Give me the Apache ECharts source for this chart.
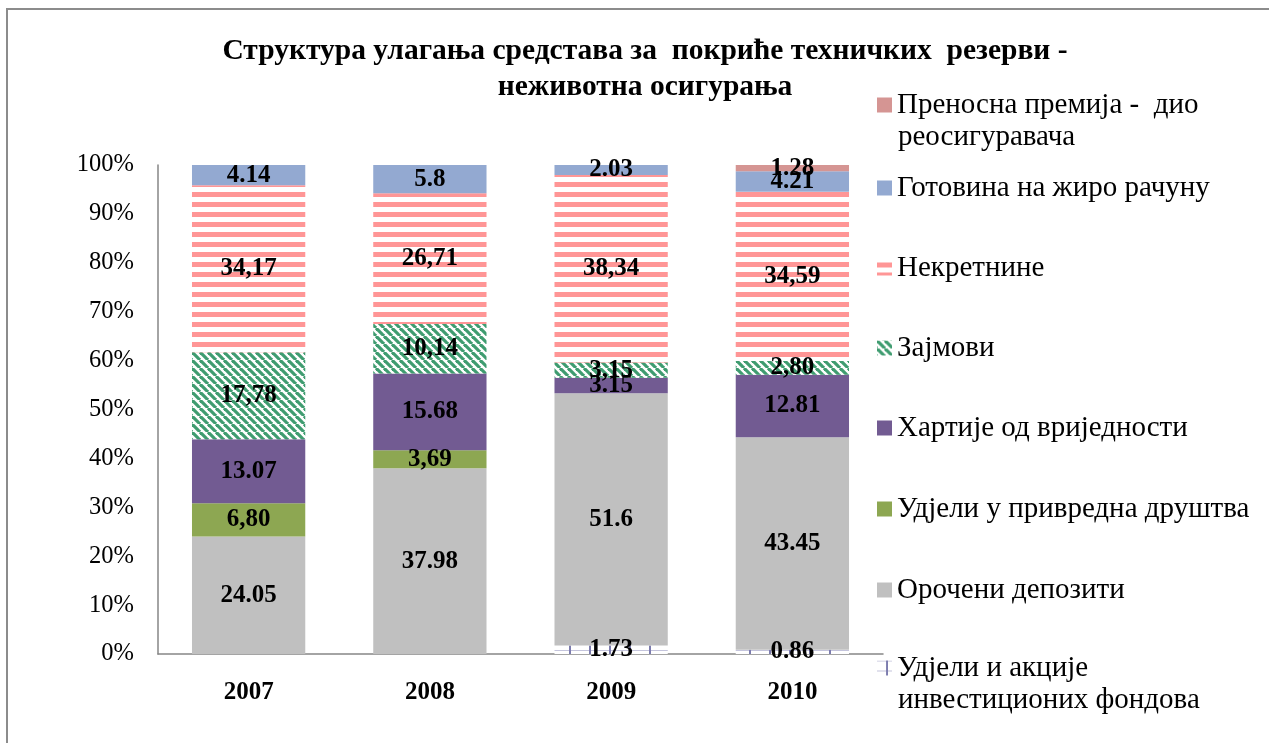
<!DOCTYPE html>
<html>
<head>
<meta charset="utf-8">
<script src="https://cdn.jsdelivr.net/npm/echarts@6/dist/echarts.min.js"></script>
<style>
  html, body { margin: 0; padding: 0; background: #fff; }
  #chart { width: 1269px; height: 743px; }
</style>
</head>
<body>
<div id="chart"></div>
<script>
// categories (years)
const years = ['2007', '2008', '2009', '2010'];

// series names, bottom of the stack first
const seriesNames = [
  'Удјели и акције инвестиционих фондова',
  'Орочени депозити',
  'Удјели у привредна друштва',
  'Хартије од вриједности',
  'Зајмови',
  'Некретнине',
  'Готовина на жиро рачуну',
  'Преносна премија - дио реосигуравача'
];

// values in %, one array per series
const fundShares   = [0, 0, 1.73, 0.86];
const deposits     = [24.05, 37.98, 51.6, 43.45];
const companyShares = [6.80, 3.69, 0, 0];
const securities   = [13.07, 15.68, 3.15, 12.81];
const loans        = [17.78, 10.14, 3.15, 2.80];
const realEstate   = [34.17, 26.71, 38.34, 34.59];
const cash         = [4.14, 5.8, 2.03, 4.21];
const premium      = [0, 0, 0, 1.28];

const yTicks = [0, 10, 20, 30, 40, 50, 60, 70, 80, 90, 100];

// little canvas tiles for the hatched fills
function tile(w, h, draw) {
  const c = document.createElement('canvas');
  c.width = w; c.height = h;
  const ctx = c.getContext('2d');
  ctx.fillStyle = '#ffffff';
  ctx.fillRect(0, 0, w, h);
  draw(ctx);
  return { image: c, repeat: 'repeat' };
}

const stripesPink = tile(10, 10, ctx => {
  ctx.fillStyle = '#ff9696';
  ctx.fillRect(0, 2, 10, 5);
});

const stripesGreen = tile(8, 8, ctx => {
  ctx.strokeStyle = '#3f9c70';
  ctx.lineWidth = 3.2;
  [-8, 0, 8].forEach(k => {
    ctx.beginPath();
    ctx.moveTo(k, 0);
    ctx.lineTo(k + 8, 8);
    ctx.stroke();
  });
});

const ticksBlue = tile(20, 10, ctx => {
  ctx.fillStyle = '#c4c4dc';
  ctx.fillRect(0, 0, 20, 1);
  ctx.fillStyle = '#7c7cae';
  ctx.fillRect(9, 0, 2, 10);
});

const fills = [ticksBlue, '#c0c0c0', '#8da752', '#725b92', stripesGreen, stripesPink, '#93a9d1', '#d59593'];
const commaSeries = [false, false, true, false, true, true, false, false];
const allValues = [fundShares, deposits, companyShares, securities, loans, realEstate, cash, premium];

const serif = '"Liberation Serif", "Times New Roman", serif';

const series = seriesNames.map((name, i) => ({
  name: name,
  type: 'bar',
  stack: 'total',
  barWidth: '62.5%',
  data: allValues[i],
  itemStyle: { color: fills[i] },
  label: {
    show: true,
    position: 'inside',
    fontFamily: serif,
    fontWeight: 'bold',
    fontSize: 25,
    color: '#000',
    formatter: p => {
      if (!p.value) return '';
      return commaSeries[i] ? p.value.toFixed(2).replace('.', ',') : String(p.value);
    }
  }
}));

// legend, top to bottom, each placed on its own row
const legendRows = [
  { name: seriesNames[7], y: 105, text: 'Преносна премија -  дио' },
  { name: seriesNames[6], y: 188 },
  { name: seriesNames[5], y: 268 },
  { name: seriesNames[4], y: 348 },
  { name: seriesNames[3], y: 428 },
  { name: seriesNames[2], y: 509 },
  { name: seriesNames[1], y: 590 },
  { name: seriesNames[0], y: 668, text: 'Удјели и акције' }
];

const legends = legendRows.map(r => ({
  data: [r.name],
  left: 877,
  top: r.y - 16,
  padding: 0,
  itemWidth: 15,
  itemHeight: 15,
  icon: 'rect',
  selectedMode: false,
  formatter: () => r.text || r.name,
  textStyle: { fontFamily: serif, fontSize: 29, color: '#000', lineHeight: 32 }
}));

const chart = echarts.init(document.getElementById('chart'));
chart.setOption({
  animation: false,
  title: {
    text: 'Структура улагања средстава за  покриће техничких  резерви -\nнеживотна осигурања',
    left: 640,
    top: 28,
    textAlign: 'center',
    textStyle: { fontFamily: serif, fontWeight: 'bold', fontSize: 29.5, lineHeight: 36, color: '#000' }
  },
  legend: legends,
  grid: { left: 158, right: 386, top: 165, bottom: 89 },
  xAxis: {
    type: 'category',
    data: years,
    axisLine: { lineStyle: { color: '#868686', width: 1.5 } },
    axisTick: { show: false },
    axisLabel: { fontFamily: serif, fontWeight: 'bold', fontSize: 25, color: '#000', margin: 26 }
  },
  yAxis: {
    type: 'value',
    min: yTicks[0],
    max: yTicks[yTicks.length - 1],
    interval: 10,
    axisLine: { show: true, lineStyle: { color: '#868686', width: 1.5 } },
    axisTick: { show: false },
    splitLine: { show: false },
    axisLabel: { fontFamily: serif, fontSize: 24.5, color: '#000', margin: 24, formatter: '{value}%' }
  },
  graphic: [
    {
      type: 'rect',
      shape: { x: 7, y: 9, width: 1300, height: 800 },
      style: { fill: 'none', stroke: '#8c8c8c', lineWidth: 2 },
      silent: true
    },
    {
      type: 'text', left: 898, top: 123,
      style: { text: 'реосигуравача', font: '29px ' + serif, fill: '#000' }
    },
    {
      type: 'text', left: 898, top: 686,
      style: { text: 'инвестиционих фондова', font: '29px ' + serif, fill: '#000' }
    }
  ],
  series: series
});
</script>
</body>
</html>
